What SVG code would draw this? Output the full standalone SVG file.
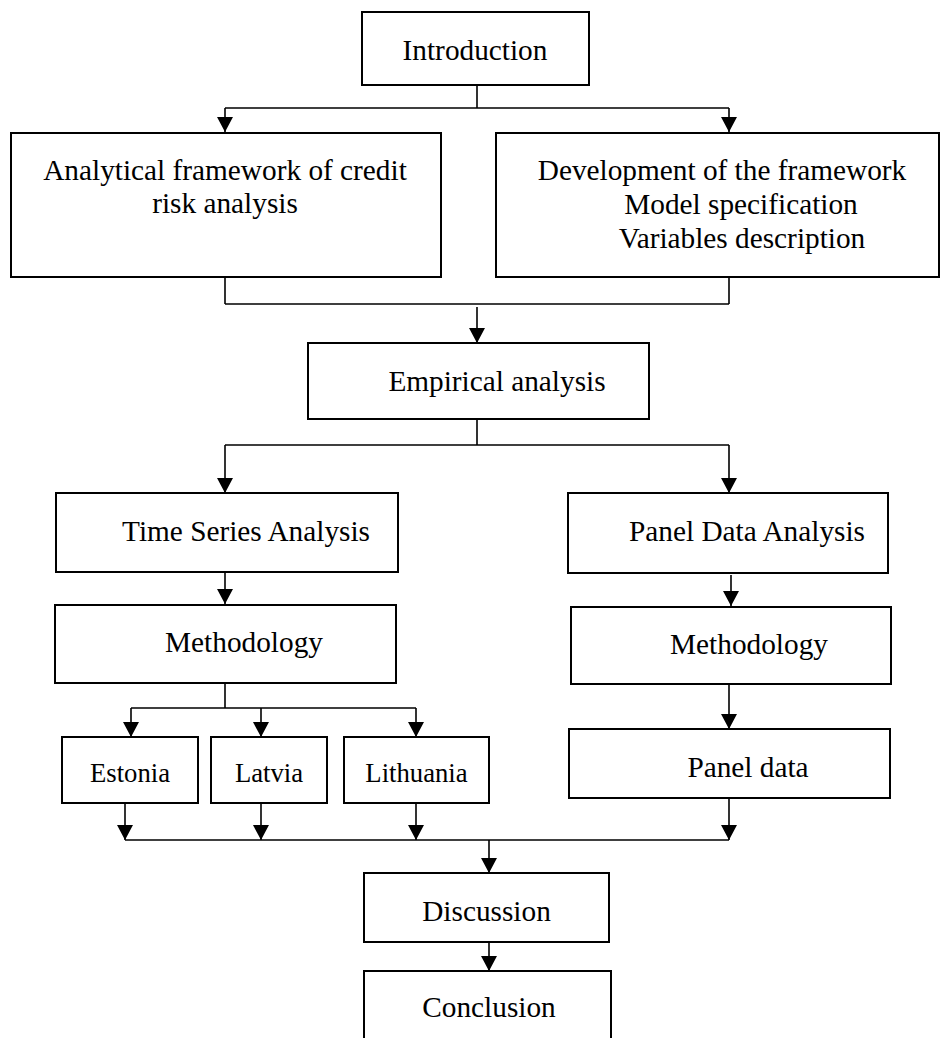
<svg xmlns="http://www.w3.org/2000/svg" width="940" height="1038" viewBox="0 0 940 1038">
<style>
.box{fill:#fff;stroke:#000;stroke-width:2}
.t{font-family:"Liberation Serif","Times New Roman",serif;font-size:29.3px;fill:#000;text-anchor:middle}
.s{font-size:26.7px}
.c{fill:none;stroke:#000;stroke-width:1.6}
.a{marker-end:url(#ah)}
</style>
<defs>
<marker id="ah" markerUnits="userSpaceOnUse" markerWidth="15" markerHeight="16" refX="15" refY="8" orient="auto">
<path d="M0,0 L15,8 L0,16 z" fill="#000"/>
</marker>
</defs>
<rect width="940" height="1038" fill="#fff"/>
<g id="connectors">
<path class="c" d="M477,85 V108 M225,108 H729"/>
<path class="c a" d="M225,108 V132"/>
<path class="c a" d="M729,108 V132"/>
<path class="c" d="M225,277 V304 M729,277 V304 M225,304 H729"/>
<path class="c a" d="M477,307 V343"/>
<path class="c" d="M477,419 V445 M225,445 H729"/>
<path class="c a" d="M225,445 V493"/>
<path class="c a" d="M729,445 V493"/>
<path class="c a" d="M225,572 V604"/>
<path class="c a" d="M731,575 V606"/>
<path class="c" d="M225,683 V708 M131,708 H416"/>
<path class="c a" d="M131,708 V737"/>
<path class="c a" d="M261,708 V737"/>
<path class="c a" d="M416,708 V737"/>
<path class="c a" d="M729,684 V729"/>
<path class="c a" d="M125,803 V840"/>
<path class="c a" d="M261,803 V840"/>
<path class="c a" d="M416,803 V840"/>
<path class="c a" d="M729,798 V840"/>
<path class="c" d="M125,840 H729"/>
<path class="c a" d="M489,840 V873"/>
<path class="c a" d="M489,942 V971"/>
</g>
<g id="introduction"><rect class="box" x="362" y="12" width="227" height="73"/><text class="t" x="475" y="60">Introduction</text></g>
<g id="analytical"><rect class="box" x="11" y="133" width="430" height="144"/><text class="t" x="225" y="180">Analytical framework of credit</text><text class="t" x="225" y="213">risk analysis</text></g>
<g id="development"><rect class="box" x="496" y="133" width="443" height="144"/><text class="t" x="722" y="180">Development of the framework</text><text class="t" x="741" y="214">Model specification</text><text class="t" x="742" y="248">Variables description</text></g>
<g id="empirical"><rect class="box" x="308" y="343" width="341" height="76"/><text class="t" x="497" y="391">Empirical analysis</text></g>
<g id="timeseries"><rect class="box" x="56" y="493" width="342" height="79"/><text class="t" x="246" y="541">Time Series Analysis</text></g>
<g id="paneldataanalysis"><rect class="box" x="568" y="493" width="320" height="80"/><text class="t" x="747" y="541">Panel Data Analysis</text></g>
<g id="methodology-ts"><rect class="box" x="55" y="605" width="341" height="78"/><text class="t" x="244" y="652">Methodology</text></g>
<g id="methodology-pd"><rect class="box" x="571" y="607" width="320" height="77"/><text class="t" x="749" y="654">Methodology</text></g>
<g id="estonia"><rect class="box" x="62" y="737" width="136" height="66"/><text class="t s" x="130" y="782">Estonia</text></g>
<g id="latvia"><rect class="box" x="211" y="737" width="116" height="66"/><text class="t s" x="269" y="782">Latvia</text></g>
<g id="lithuania"><rect class="box" x="344" y="737" width="145" height="66"/><text class="t s" x="416.5" y="782">Lithuania</text></g>
<g id="paneldata"><rect class="box" x="569" y="729" width="321" height="69"/><text class="t" x="748" y="777">Panel data</text></g>
<g id="discussion"><rect class="box" x="364" y="873" width="245" height="69"/><text class="t" x="486.5" y="921">Discussion</text></g>
<g id="conclusion"><rect class="box" x="364" y="971" width="247" height="80"/><text class="t" x="489" y="1017">Conclusion</text></g>
</svg>
